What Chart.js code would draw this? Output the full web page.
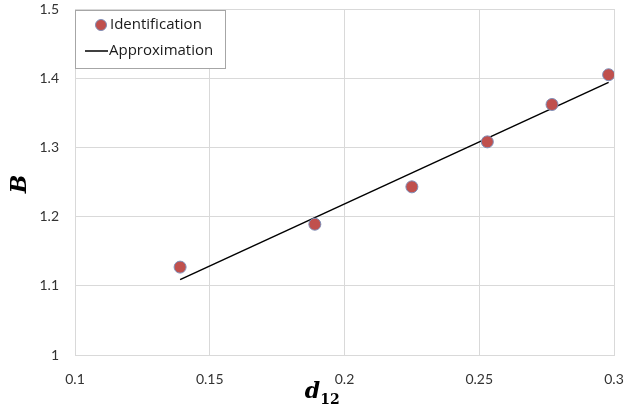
<!DOCTYPE html>
<html>
<head>
<meta charset="utf-8">
<script src="https://cdn.jsdelivr.net/npm/chart.js@4/dist/chart.umd.min.js"></script>
<style>
  html, body { margin: 0; padding: 0; background: #fff; }
  #wrap { position: relative; width: 629px; height: 409px; }
</style>
</head>
<body>
<div id="wrap"><canvas id="c" width="629" height="409"></canvas></div>
<script>
// identified values
const idX = [0.139, 0.189, 0.225, 0.253, 0.277, 0.298];
const idY = [1.127, 1.189, 1.243, 1.308, 1.362, 1.405];
// fitted line end points
const approxX = [0.139, 0.298];
const approxY = [1.109, 1.394];

const xTicks = [0.1, 0.15, 0.2, 0.25, 0.3];
const yTicks = [1, 1.1, 1.2, 1.3, 1.4, 1.5];

const tickFont = { family: "Lato, 'Open Sans', sans-serif", size: 14 };
const gridColor = '#d9d9d9';

const toPoints = (xs, ys) => xs.map((x, i) => ({ x: x, y: ys[i] }));

// legend box drawn inside the plot, top left, plus the math-style axis titles
const overlay = {
  id: 'overlay',
  afterDraw(chart) {
    const ctx = chart.ctx;
    const area = chart.chartArea;
    const ds = chart.data.datasets;
    ctx.save();

    // legend
    const bx = area.left, by = area.top + 1, bw = 150, bh = 58;
    ctx.fillStyle = '#fff';
    ctx.fillRect(bx, by, bw, bh);
    ctx.strokeStyle = '#a6a6a6';
    ctx.lineWidth = 1;
    ctx.strokeRect(bx + 0.5, by + 0.5, bw, bh);

    ctx.font = "15px 'Open Sans', Lato, sans-serif";
    ctx.fillStyle = '#1a1a1a';
    ctx.textBaseline = 'middle';
    ctx.textAlign = 'left';

    ctx.beginPath();
    ctx.arc(bx + 26, by + 15, 5.5, 0, Math.PI * 2);
    ctx.fillStyle = ds[0].backgroundColor;
    ctx.fill();
    ctx.strokeStyle = ds[0].borderColor;
    ctx.lineWidth = 1;
    ctx.stroke();
    ctx.fillStyle = '#1a1a1a';
    ctx.fillText(ds[0].label, bx + 35, by + 15);

    ctx.beginPath();
    ctx.moveTo(bx + 10, by + 41);
    ctx.lineTo(bx + 33, by + 41);
    ctx.strokeStyle = ds[1].borderColor;
    ctx.lineWidth = 1.5;
    ctx.stroke();
    ctx.fillText(ds[1].label, bx + 34, by + 41);

    // x title: d with subscript 12
    const cx = (area.left + area.right) / 2;
    ctx.fillStyle = '#000';
    ctx.textBaseline = 'alphabetic';
    ctx.font = "bold italic 22px 'DejaVu Serif', 'Liberation Serif', serif";
    const dW = ctx.measureText('d').width;
    ctx.fillText('d', cx - 32 - dW / 2, 398);
    ctx.font = "bold 14px 'DejaVu Serif', 'Liberation Serif', serif";
    ctx.fillText('12', cx - 32 + dW / 2, 404);

    // y title
    ctx.translate(26, (area.top + area.bottom) / 2 + 2);
    ctx.rotate(-Math.PI / 2);
    ctx.textAlign = 'center';
    ctx.font = "bold italic 22px 'DejaVu Serif', 'Liberation Serif', serif";
    ctx.fillText('B', 0, 0);

    ctx.restore();
  }
};

new Chart(document.getElementById('c'), {
  type: 'scatter',
  data: {
    datasets: [
      {
        label: 'Identification',
        data: toPoints(idX, idY),
        backgroundColor: '#c0504d',
        borderColor: '#7f8fb8',
        borderWidth: 1,
        pointRadius: 6,
        order: 0
      },
      {
        label: 'Approximation',
        type: 'line',
        data: toPoints(approxX, approxY),
        borderColor: '#000',
        borderWidth: 1.5,
        pointRadius: 0,
        fill: false,
        order: 1
      }
    ]
  },
  options: {
    responsive: false,
    animation: false,
    layout: { padding: { left: 0, right: 15, top: 9, bottom: 0 } },
    plugins: { legend: { display: false }, tooltip: { enabled: false } },
    scales: {
      x: {
        type: 'linear',
        min: 0.1,
        max: 0.3,
        afterBuildTicks: s => { s.ticks = xTicks.map(v => ({ value: v })); },
        afterFit: s => { s.height = 54; s.paddingLeft = 0; s.paddingRight = 0; },
        grid: { color: gridColor, drawTicks: false },
        border: { color: gridColor },
        ticks: {
          font: tickFont,
          color: '#333',
          padding: 16,
          maxRotation: 0,
          callback: v => String(v)
        }
      },
      y: {
        min: 1,
        max: 1.5,
        afterBuildTicks: s => { s.ticks = yTicks.map(v => ({ value: v })); },
        afterFit: s => { s.width = 75; s.paddingTop = 0; s.paddingBottom = 0; },
        grid: { color: gridColor, drawTicks: false },
        border: { color: gridColor },
        ticks: {
          font: tickFont,
          color: '#333',
          padding: 16,
          callback: v => String(v)
        }
      }
    }
  },
  plugins: [overlay]
});
</script>
</body>
</html>
